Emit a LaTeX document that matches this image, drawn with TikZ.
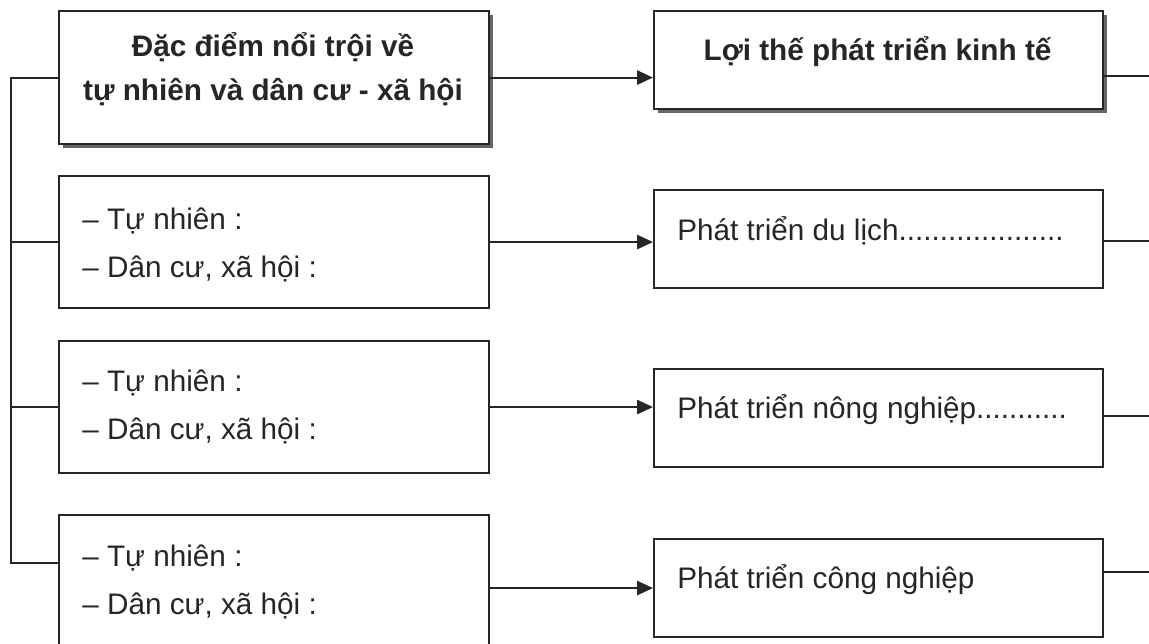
\documentclass[tikz,border=0pt]{standalone}
\usepackage{fontspec}
\setmainfont{Liberation Sans}
\usetikzlibrary{arrows.meta,shadows}

\tikzset{
  lbox/.style={draw=black!85, line width=1.2pt, fill=white, minimum width=8.6cm,
    minimum height=2.64cm, inner sep=0pt, anchor=north west},
  rbox/.style={draw=black!85, line width=1.2pt, fill=white, minimum width=8.98cm,
    minimum height=1.96cm, inner sep=0pt, anchor=north west},
  head/.style={drop shadow={shadow xshift=0.08cm, shadow yshift=-0.08cm,
    fill=black!60, opacity=1}},
  txt/.style={inner sep=0pt, text=black!85, align=left,
    font=\fontsize{16.9}{27.3}\selectfont},
  bold/.style={txt, align=center, font=\fontsize{16.9}{24.5}\selectfont\bfseries},
  link/.style={line width=1.2pt, draw=black!85},
}

\begin{document}
\begin{tikzpicture}[>={Triangle[length=9pt,width=8pt]}]
    \useasboundingbox (0,0) rectangle (22.98,12.86);
    \clip (0,0) rectangle (22.98,12.86);
    % left column
    \node [lbox, head, minimum height=2.66cm] (L1) at (1.16,12.66) {};
    \node [lbox] (L2) at (1.16,9.36) {};
    \node [lbox] (L3) at (1.16,6.06) {};
    \node [lbox] (L4) at (1.16,2.58) {};
    % right column
    \node [rbox, head] (R1) at (13.06,12.66) {};
    \node [rbox] (R2) at (13.06,9.08) {};
    \node [rbox] (R3) at (13.06,5.50) {};
    \node [rbox] (R4) at (13.06,2.10) {};
    % texts (base = last line)
    \node [bold, anchor=base] (L1t) at (5.46,10.86)
        {Đặc điểm nổi trội về\\tự nhiên và dân cư - xã hội};
    \node [bold, anchor=base] (R1t) at (17.55,11.66) {Lợi thế phát triển kinh tế};
    \node [txt, anchor=base west] (L2t) at (1.64,7.31) {– Tự nhiên :\\– Dân cư, xã hội :};
    \node [txt, anchor=base west] (L3t) at (1.64,4.08) {– Tự nhiên :\\– Dân cư, xã hội :};
    \node [txt, anchor=base west] (L4t) at (1.64,0.58) {– Tự nhiên :\\– Dân cư, xã hội :};
    \node [txt, anchor=base west] (R2t) at (13.54,8.06) {Phát triển du lịch....................};
    \node [txt, anchor=base west] (R3t) at (13.54,4.50) {Phát triển nông nghiệp...........};
    \node [txt, anchor=base west] (R4t) at (13.54,1.10) {Phát triển công nghiệp};
    % arrows between the columns
    \draw [link, ->] (L1.east) -- (L1.east -| R1.west);
    \draw [link, ->] (L2.east) -- (L2.east -| R2.west);
    \draw [link, ->] (L3.east) -- (L3.east -| R3.west);
    \draw [link, ->] (L4.east |- R4.west) -- (R4.west);
    % bracket on the left
    \coordinate (bus) at (0.22,1.60);
    \draw [link] (L1.west) -| (bus) -- (bus -| L4.west);
    \draw [link] (L2.west) -- (L2.west -| bus);
    \draw [link] (L3.west) -- (L3.west -| bus);
    % lines leaving on the right
    \coordinate (E1) at (22.98,11.34);
    \coordinate (E2) at (22.98,8.04);
    \coordinate (E3) at (22.98,4.54);
    \coordinate (E4) at (22.98,1.42);
    \draw [link] (E1 -| R1.east) -- (E1);
    \draw [link] (E2 -| R2.east) -- (E2);
    \draw [link] (E3 -| R3.east) -- (E3);
    \draw [link] (E4 -| R4.east) -- (E4);
\end{tikzpicture}
\end{document}
